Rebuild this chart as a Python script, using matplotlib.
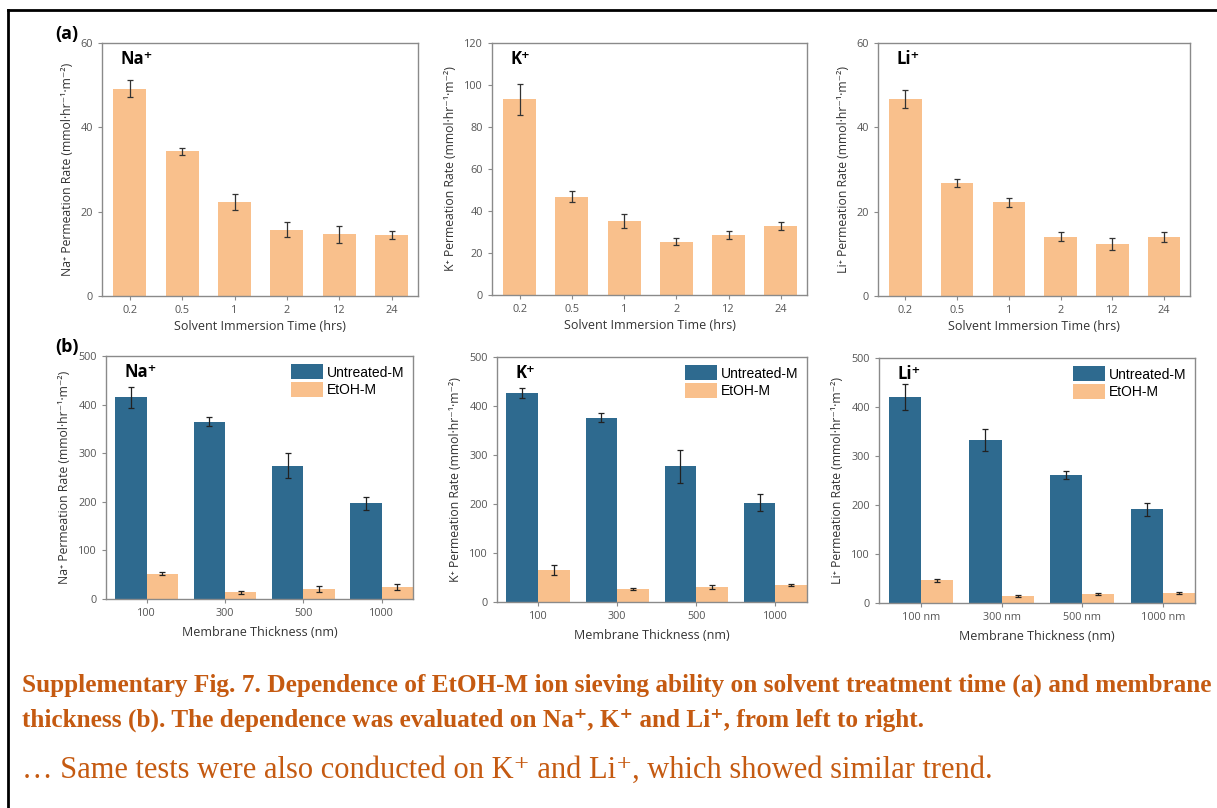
import matplotlib.pyplot as plt
from matplotlib.lines import Line2D
import numpy as np

# immersion time series (EtOH-M)
times = ["0.2", "0.5", "1", "2", "12", "24"]
na_time = [49.2, 34.3, 22.4, 15.7, 14.6, 14.5]
na_time_err = [2.1, 0.9, 1.9, 1.8, 2.0, 1.0]
k_time = [93.2, 46.8, 35.2, 25.4, 28.5, 33.0]
k_time_err = [7.5, 2.7, 3.2, 1.7, 2.0, 2.0]
li_time = [46.7, 26.8, 22.2, 14.1, 12.4, 14.0]
li_time_err = [2.2, 1.0, 1.1, 1.1, 1.4, 1.2]

# membrane thickness series
thick = ["100", "300", "500", "1000"]
thick_nm = ["100 nm", "300 nm", "500 nm", "1000 nm"]
na_untreated = [415, 365, 274, 197]
na_untreated_err = [22, 9, 26, 13]
na_etoh = [52, 14, 21, 25]
na_etoh_err = [3.5, 3, 6, 6]
k_untreated = [426, 376, 277, 203]
k_untreated_err = [10, 9, 34, 17]
k_etoh = [65, 26, 30, 35]
k_etoh_err = [10, 2, 4, 2]
li_untreated = [420, 333, 261, 191]
li_untreated_err = [26, 22, 8, 14]
li_etoh = [46, 15, 18, 20]
li_etoh_err = [4, 2, 2, 2]

W, H = 1217, 808
BLUE = "#2e6a8f"
PEACH = "#f9c08c"
SPINE = "#8a8a8a"
CAPTION = "#c55a11"
SANS = ["Open Sans", "DejaVu Sans"]


def box(x1, y1, x2, y2):
    return [x1 / W, 1 - y2 / H, (x2 - x1) / W, (y2 - y1) / H]


def style(ax, ion, ymax, ystep):
    for s in ax.spines.values():
        s.set_color(SPINE)
        s.set_linewidth(1.0)
    ax.tick_params(colors=SPINE, labelcolor="#555555", labelsize=7.8, length=3, width=0.8)
    ax.set_ylim(0, ymax)
    ax.set_yticks(np.arange(0, ymax + 1, ystep))
    for lab in ax.get_xticklabels() + ax.get_yticklabels():
        lab.set_family(SANS)
    ax.set_ylabel(ion + "\u207a Permeation Rate (mmol\u00b7hr\u207b\u00b9\u00b7m\u207b\u00b2)",
                  family=SANS, fontsize=8.8, color="#333333", labelpad=5)
    ax.text(0.06, 0.935, ion + "\u207a", transform=ax.transAxes, family=SANS,
            fontsize=12, fontweight="bold", va="center", ha="left")


fig = plt.figure(figsize=(W / 100, H / 100), dpi=100)

# outer frame (top and left edges)
fig.add_artist(Line2D([8 / W, 1], [1 - 10 / H] * 2, color="black", lw=2))
fig.add_artist(Line2D([8 / W] * 2, [0, 1 - 10 / H], color="black", lw=2))

# (a) solvent immersion time
top_boxes = [box(102, 43, 418, 296), box(492, 43, 807, 295), box(878, 43, 1190, 296)]
top_data = [("Na", na_time, na_time_err, 60, 20),
            ("K", k_time, k_time_err, 120, 20),
            ("Li", li_time, li_time_err, 60, 20)]
x6 = np.arange(len(times))
for rect, (ion, vals, errs, ymax, ystep) in zip(top_boxes, top_data):
    ax = fig.add_axes(rect)
    ax.bar(x6, vals, width=0.63, color=PEACH, yerr=errs,
           error_kw=dict(ecolor="#333333", elinewidth=0.9, capsize=2, capthick=0.9))
    ax.set_xlim(-0.53, 5.5)
    ax.set_xticks(x6)
    ax.set_xticklabels(times)
    style(ax, ion, ymax, ystep)
    ax.set_xlabel("Solvent Immersion Time (hrs)", family=SANS, fontsize=9,
                  color="#333333", labelpad=3)

# (b) membrane thickness
bot_boxes = [box(106, 356, 413, 599), box(497, 357, 807, 602), box(879, 358, 1195, 603)]
bot_data = [("Na", na_untreated, na_untreated_err, na_etoh, na_etoh_err, thick),
            ("K", k_untreated, k_untreated_err, k_etoh, k_etoh_err, thick),
            ("Li", li_untreated, li_untreated_err, li_etoh, li_etoh_err, thick_nm)]
x4 = np.arange(len(thick))
ekw = dict(ecolor="#222222", elinewidth=0.9, capsize=2, capthick=0.9)
for rect, (ion, unt, unt_e, eto, eto_e, labels) in zip(bot_boxes, bot_data):
    ax = fig.add_axes(rect)
    ax.bar(x4 - 0.2, unt, width=0.4, color=BLUE, yerr=unt_e, error_kw=ekw,
           label="Untreated-M")
    ax.bar(x4 + 0.2, eto, width=0.4, color=PEACH, yerr=eto_e, error_kw=ekw,
           label="EtOH-M")
    ax.set_xlim(-0.52, 3.4)
    ax.set_xticks(x4)
    ax.set_xticklabels(labels)
    style(ax, ion, 500, 100)
    ax.set_xlabel("Membrane Thickness (nm)", family=SANS, fontsize=9,
                  color="#333333", labelpad=5)
    ax.legend(loc="upper right", frameon=False,
              prop={"family": "Liberation Sans", "size": 10},
              handlelength=2.3, handleheight=1.3, labelspacing=0.15,
              handletextpad=0.3, borderaxespad=0.2)

# panel letters
fig.text(55 / W, 1 - 34 / H, "(a)", family=SANS, fontsize=13, fontweight="bold",
         va="center")
fig.text(55 / W, 1 - 347 / H, "(b)", family=SANS, fontsize=13, fontweight="bold",
         va="center")

# caption
SERIF = ["Liberation Serif", "DejaVu Serif"]
fig.text(22 / W, 1 - 685 / H,
         "Supplementary Fig. 7. Dependence of EtOH-M ion sieving ability on solvent "
         "treatment time (a) and membrane",
         family=SERIF, fontsize=18.2, fontweight="bold", color=CAPTION, va="center")
fig.text(22 / W, 1 - 720 / H,
         "thickness (b). The dependence was evaluated on Na\u207a, K\u207a and Li\u207a, "
         "from left to right.",
         family=SERIF, fontsize=18.2, fontweight="bold", color=CAPTION, va="center")
fig.text(22 / W, 1 - 770 / H,
         "\u2026 Same tests were also conducted on K\u207a and Li\u207a, which showed "
         "similar trend.",
         family=SERIF, fontsize=22, color=CAPTION, va="center")

fig.savefig("out.png", dpi=100)
